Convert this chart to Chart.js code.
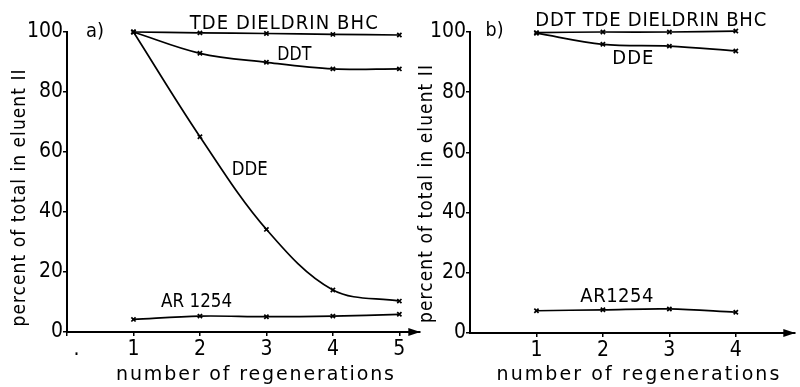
<!DOCTYPE html>
<html>
<head>
<meta charset="utf-8">
<script src="https://cdn.jsdelivr.net/npm/chart.js@4.4.1/dist/chart.umd.min.js"></script>
<style>
html,body{margin:0;padding:0;background:#fff;width:800px;height:387px;overflow:hidden}
#wa{position:absolute;left:0;top:0;width:425px;height:387px}
#wb{position:absolute;left:405px;top:0;width:395px;height:387px}
</style>
</head>
<body>
<div id="wa"><canvas id="ca"></canvas></div>
<div id="wb"><canvas id="cb"></canvas></div>
<script>
// ---- data ----
const xA = [1, 2, 3, 4, 5];
const aTop = [100, 99.7, 99.5, 99.2, 99.0];      // TDE DIELDRIN BHC
const aDDT = [100, 92.9, 89.9, 87.7, 87.7];
const aDDE = [100, 65.1, 34.2, 14.0, 10.3];
const aAR  = [4.2, 5.3, 5.1, 5.3, 5.9];

const xB = [1, 2, 3, 4];
const bTop = [99.8, 100, 100, 100.3];           // DDT TDE DIELDRIN BHC
const bDDE = [99.6, 95.9, 95.3, 93.7];
const bAR  = [7.4, 7.7, 8.0, 6.9];

const yTicks = [0, 20, 40, 60, 80, 100];
const xTicksA = [0, 1, 2, 3, 4, 5];
const xTicksB = [1, 2, 3, 4];

const labelsA = [
  {t:'a)', x:0.42, y:100, w:18},
  {t:'TDE DIELDRIN BHC', x:3.26, y:102.7, w:188},
  {t:'DDT', x:3.42, y:92.3, w:34},
  {t:'DDE', x:2.75, y:54, w:36},
  {t:'AR 1254', x:1.95, y:10, w:71}
];
const labelsB = [
  {t:'b)', x:0.37, y:100.3, w:18},
  {t:'DDT TDE DIELDRIN BHC', x:2.72, y:103.7, w:231},
  {t:'DDE', x:2.45, y:91, w:41},
  {t:'AR1254', x:2.21, y:12, w:73}
];

const FONT = '"Liberation Sans Narrow","DejaVu Sans Condensed","Liberation Sans",sans-serif';

function series(xs, ys){ return xs.map((x,i)=>({x:x, y:ys[i]})); }
function ds(xs, ys){
  return {data: series(xs, ys), borderColor:'#000', borderWidth:1.7, tension:0.35,
    pointStyle:'crossRot', pointRadius:3, pointBorderWidth:1.7, pointBorderColor:'#000',
    pointBackgroundColor:'#000', fill:false, clip:false};
}

function stretchText(ctx, text, cx, cy, targetW){
  ctx.letterSpacing = '0px';
  const w = ctx.measureText(text).width;
  const n = text.length;
  let sp = n > 1 ? (targetW - w) / (n - 1) : 0;
  if (sp < 0) sp = 0;
  ctx.letterSpacing = sp + 'px';
  const w2 = ctx.measureText(text).width - sp;
  ctx.textAlign = 'left';
  ctx.fillText(text, cx - w2/2, cy, targetW + 2);
  ctx.letterSpacing = '0px';
}

function makeDeco(labels, xTitleC, yTitleX, yTitleC, yTitleW, xTitleW){
  return {
    id:'deco',
    afterDraw(chart){
      const ctx = chart.ctx, xs = chart.scales.x, ys = chart.scales.y, ca = chart.chartArea;
      ctx.save();
      ctx.fillStyle = '#000';
      ctx.textBaseline = 'middle';
      ctx.font = '20px ' + FONT;
      labels.forEach(l=>{
        const px = xs.getPixelForValue(l.x), py = ys.getPixelForValue(l.y);
        ctx.letterSpacing = '0px';
        const w = ctx.measureText(l.t).width;
        ctx.textAlign = 'center';
        if (w >= l.w) ctx.fillText(l.t, px, py, l.w);
        else stretchText(ctx, l.t, px, py, l.w);
      });
      // x title
      ctx.font = '19px "DejaVu Sans",sans-serif';
      stretchText(ctx, 'number of regenerations', xTitleC, 375, xTitleW);
      // y title
      ctx.save();
      ctx.translate(yTitleX, yTitleC);
      ctx.rotate(-Math.PI/2);
      ctx.font = '19px ' + FONT;
      stretchText(ctx, 'percent of total in eluent II', 0, 0, yTitleW);
      ctx.restore();
      // arrow head at end of x axis
      const yb = ca.bottom;
      ctx.beginPath();
      ctx.moveTo(ca.right + 1, yb);
      ctx.lineTo(ca.right - 11, yb - 4);
      ctx.lineTo(ca.right - 11, yb + 4);
      ctx.closePath();
      ctx.fill();
      ctx.restore();
    }
  };
}

function opts(xMax, xTicks, tickCb, yW, bottomH, padRight){
  return {
    responsive:true, maintainAspectRatio:false, animation:false,
    layout:{padding:{top:32, right:padRight, left:0, bottom:0}},
    plugins:{legend:{display:false}, tooltip:{enabled:false}},
    scales:{
      x:{type:'linear', min:0, max:xMax,
        afterBuildTicks(s){ s.ticks = xTicks.map(v=>({value:v})); },
        afterFit(s){ s.height = bottomH; },
        grid:{drawOnChartArea:false, drawTicks:true, tickLength:4, color:'#000', lineWidth:1.5},
        border:{display:true, color:'#000', width:2},
        ticks:{color:'#000', padding:1, autoSkip:false, maxRotation:0,
          font:{family:FONT, size:21}, callback:tickCb}
      },
      y:{type:'linear', min:0, max:100,
        afterBuildTicks(s){ s.ticks = yTicks.map(v=>({value:v})); },
        afterFit(s){ s.width = yW; },
        grid:{drawOnChartArea:false, drawTicks:true, tickLength:4, color:'#000', lineWidth:1.5},
        border:{display:true, color:'#000', width:2},
        ticks:{color:'#000', padding:0, font:{family:FONT, size:21}}
      }
    }
  };
}

new Chart(document.getElementById('ca'), {
  type:'line',
  data:{datasets:[ds(xA,aTop), ds(xA,aDDT), ds(xA,aDDE), ds(xA,aAR)]},
  options:opts(5.3, xTicksA, v => v === 0 ? '\u2002\u2002.' : String(v), 67, 55, 5),
  plugins:[makeDeco(labelsA, 255, 20, 198, 257, 278)]
});

new Chart(document.getElementById('cb'), {
  type:'line',
  data:{datasets:[ds(xB,bTop), ds(xB,bDDE), ds(xB,bAR)]},
  options:opts(4.88, xTicksB, v => String(v), 65, 54, 3),
  plugins:[makeDeco(labelsB, 638-405, 427-405, 194, 258, 283)]
});
</script>
</body>
</html>
